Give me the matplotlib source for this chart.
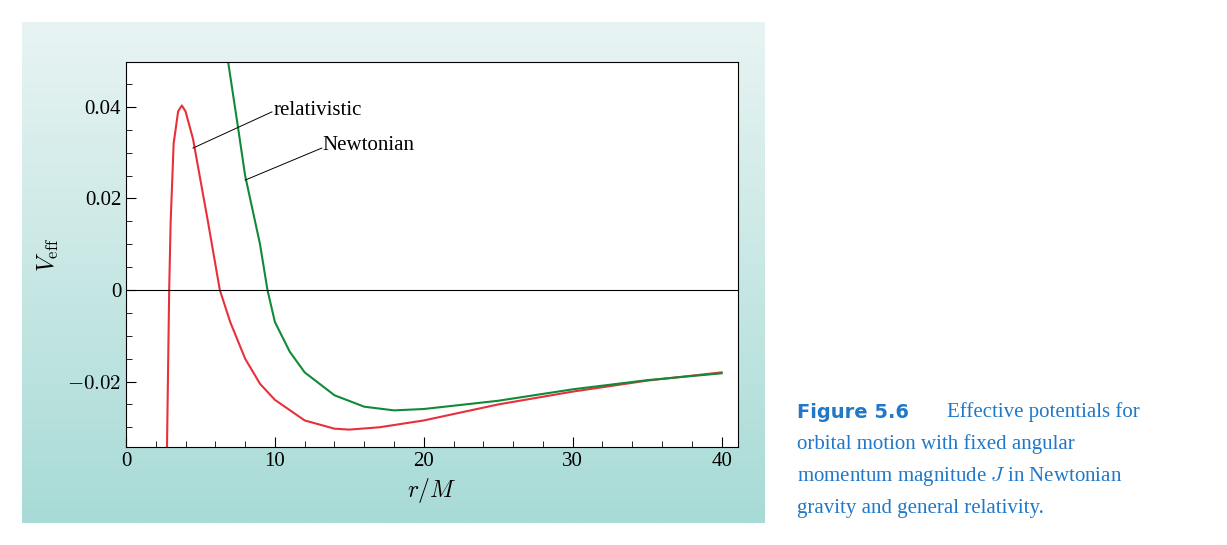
import numpy as np
import matplotlib.pyplot as plt
from matplotlib.ticker import MultipleLocator

plt.rcParams['font.family'] = ['Liberation Serif', 'DejaVu Serif']
plt.rcParams['mathtext.fontset'] = 'cm'

# values
r_rel = [2.75, 2.9, 3.0, 3.2, 3.5, 3.75, 4.0, 4.5, 5.0, 5.5, 6.3, 7.0, 8.0, 9.0,
         10.0, 12.0, 14.0, 15.0, 17.0, 20.0, 25.0, 30.0, 35.0, 40.0]
v_rel = [-0.035, 0.0, 0.015, 0.032, 0.039, 0.0403, 0.039, 0.033, 0.024, 0.015, 0.0,
         -0.007, -0.015, -0.0205, -0.024, -0.0285, -0.0303, -0.0305, -0.030, -0.0285,
         -0.025, -0.0222, -0.0198, -0.018]
r_newt = [6.85, 7.5, 8.0, 9.0, 9.5, 10.0, 11.0, 12.0, 14.0, 16.0, 18.0, 20.0, 25.0,
          30.0, 35.0, 40.0]
v_newt = [0.05, 0.036, 0.025, 0.01, 0.0, -0.007, -0.0135, -0.018, -0.023, -0.0255,
          -0.0263, -0.026, -0.0242, -0.0217, -0.0197, -0.0182]

fig = plt.figure(figsize=(12.27, 5.45), dpi=100)

# gradient panel behind the plot
bg = fig.add_axes([22 / 1227, 22 / 545, 743 / 1227, 501 / 545])
grad = np.linspace(0, 1, 256)[:, None]
bg.imshow(grad, aspect='auto', extent=[0, 1, 0, 1],
          cmap=plt.matplotlib.colors.LinearSegmentedColormap.from_list(
              'g', ['#e8f4f3', '#a8dbd6']))
bg.axis('off')

ax = fig.add_axes([126 / 1227, 98 / 545, 612 / 1227, 385 / 545])
ax.set_facecolor('white')
ax.plot(r_rel, v_rel, color='#e8303a', lw=1.5)
ax.plot(r_newt, v_newt, color='#108a38', lw=1.5)
ax.axhline(0, color='black', lw=0.8)

ax.set_xlim(0, 41.1)
ax.set_ylim(-0.0343, 0.0498)
ax.xaxis.set_major_locator(MultipleLocator(10))
ax.xaxis.set_minor_locator(MultipleLocator(2))
ax.yaxis.set_major_locator(MultipleLocator(0.02))
ax.yaxis.set_minor_locator(MultipleLocator(0.005))
ax.tick_params(which='both', direction='in', labelsize=15)
ax.tick_params(which='major', length=7)
ax.tick_params(which='minor', length=4)
ax.set_xticks([0, 10, 20, 30, 40])
ax.set_xticklabels(['0', '10', '20', '30', '40'])
ax.set_yticks([-0.02, 0, 0.02, 0.04])
ax.set_yticklabels(['$-0.02$', '0', '0.02', '0.04'])
ax.set_xlabel('$r/M$', fontsize=17)
ax.set_ylabel(r'$V_{\mathrm{eff}}$', fontsize=17)

ax.plot([4.5, 9.8], [0.031, 0.0389], color='black', lw=0.7)
ax.text(9.9, 0.0393, 'relativistic', fontsize=15, va='center')
ax.plot([8.0, 13.15], [0.024, 0.031], color='black', lw=0.7)
ax.text(13.2, 0.0315, 'Newtonian', fontsize=15, va='center')

blue = '#1f78c8'
fig.text(797 / 1227, 1 - 412 / 545, 'Figure 5.6', family='DejaVu Sans',
         weight='bold', color=blue, fontsize=14, va='center')
fig.text(947 / 1227, 1 - 412 / 545, 'Effective potentials for', color=blue,
         fontsize=15, va='center')
lines = ['orbital motion with fixed angular',
         'momentum magnitude $J$ in Newtonian',
         'gravity and general relativity.']
for i, s in enumerate(lines):
    fig.text(797 / 1227, 1 - (444 + 32 * i) / 545, s, color=blue,
             fontsize=15, va='center')

fig.savefig('out.png', dpi=100)
